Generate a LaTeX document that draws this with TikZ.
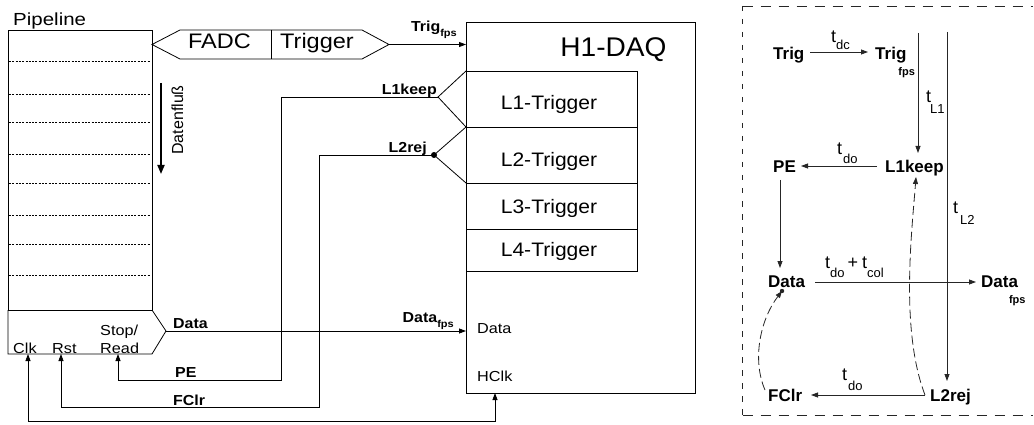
\documentclass[tikz,border=0pt]{standalone}
\usepackage{fontspec}
\setmainfont{Liberation Sans}
\usetikzlibrary{arrows.meta}
\newcommand\fsz[1]{\fontsize{#1}{#1}\selectfont}
\begin{document}
\begin{tikzpicture}[x=1pt,y=-1pt,
  ln/.style={line width=0.8pt},
  tip/.style={line width=0.8pt,-{Triangle[length=7pt,width=5pt]}},
  dotrow/.style={line width=0.7pt,dash pattern=on 2pt off 1.3pt},
  txt/.style={inner sep=0pt,anchor=base west},
  big/.style={txt,font=\fsz{21},xscale=1.12,anchor=base},
  trg/.style={txt,font=\fsz{19.5},xscale=1.08,anchor=base},
  sm/.style={txt,font=\fsz{14.5},xscale=1.12},
  bl/.style={txt,font=\bfseries\fsz{14.5},xscale=1.1},
  rb/.style={txt,font=\bfseries\fsz{17}},
  tl/.style={txt,font=\fsz{18}},
  rl/.style={line width=0.8pt,draw=black!85},
  rtip/.style={rl,-{Triangle[length=7pt,width=5pt]}},
  curve/.style={rl,dash pattern=on 9pt off 4pt,-{Triangle[length=7pt,width=5pt]}}]
\useasboundingbox (0,0) rectangle (1034,425);

% ---------- pipeline ----------
\node[txt,font=\fsz{17.5},xscale=1.17] (pipe) at (13,26) {Pipeline};
\draw[ln] (8,30.5) rectangle (152,310);
\coordinate (pipeOut) at (166,331);
\draw[ln] (8,310) -- (8,354) -- (152,354) -- (pipeOut) -- (152,310);
\foreach \y in {61,94,122,154,183,215,244,275}
  \draw[dotrow] (9,\y) -- (150,\y);
\coordinate (flowTop) at (161,83);
\coordinate (flowBot) at (161,174);
\draw[line width=1.8pt,-{Triangle[length=9pt,width=7pt]}] (flowTop) -- (flowBot);
\node[inner sep=0pt,font=\fsz{16},rotate=90,anchor=base] (flow) at (183,120) {Datenfluß};
\node[sm] (clk) at (13,353) {Clk};
\node[sm] (rst) at (52,353) {Rst};
\node[sm] (stop) at (100,335) {Stop/};
\node[sm] (read) at (100,353) {Read};
\coordinate (clkIn) at (28,354);
\coordinate (rstIn) at (61,354);
\coordinate (readIn) at (118,354);

% ---------- FADC / trigger ----------
\coordinate (fadcL) at (152,44.5);
\coordinate (trigR) at (389,44.5);
\draw[ln] (fadcL) -- (180,30) -- (362,30) -- (trigR) -- (362,59) -- (180,59) -- cycle;
\draw[ln] (271,30) -- (271,59);
\node[big] (fadc) at (219.5,48.5) {FADC};
\node[big] (trig) at (317,48.5) {Trigger};

% ---------- H1-DAQ ----------
\draw[ln] (466,22) rectangle (695,393);
\node[txt,font=\fsz{27},xscale=1.04,anchor=base] (daq) at (613.5,56.5) {H1-DAQ};
\draw[ln] (466,71) rectangle (637,127);
\draw[ln] (466,127) rectangle (637,183);
\draw[ln] (466,183) rectangle (637,229);
\draw[ln] (466,229) rectangle (637,271);
\node[trg] (lone) at (549,110) {L1-Trigger};
\node[trg] (ltwo) at (549,166.7) {L2-Trigger};
\node[trg] (lthree) at (549,213) {L3-Trigger};
\node[trg] (lfour) at (549,256) {L4-Trigger};
\node[sm] (daqDataL) at (477,333) {Data};
\node[sm] (daqClkL) at (477,381) {HClk};
\coordinate (daqTrig) at (466,44.5);
\coordinate (daqData) at (466,331);
\coordinate (daqClkIn) at (495,393);

% trigger decisions
\coordinate (lkFork) at (438,97);
\coordinate (lrFork) at (434,155);
\draw[ln] (466,71) -- (lkFork) -- (466,127);
\draw[ln] (466,127) -- (lrFork) -- (466,183);
\fill (lrFork) circle (3pt);

% ---------- signal lines ----------
\draw[tip] (trigR) -- (daqTrig);
\node[bl,anchor=base east] (trigFps) at (457,32) {Trig\raisebox{-5pt}{\fsz{10}fps}};
\draw[tip] (pipeOut) -- (daqData);
\node[bl] (dataOut) at (173,328) {Data};
\node[bl,anchor=base east] (dataFps) at (454,322) {Data\raisebox{-5pt}{\fsz{10}fps}};
\draw[tip] (lkFork) -- (281,97) -- (281,380) -- (118,380) -- (readIn);
\node[bl,anchor=base east] (lkeep) at (437,95) {L1keep};
\node[bl] (pe) at (175,377.5) {PE};
\draw[tip] (lrFork) -- (319,155) -- (319,407) -- (61,407) -- (rstIn);
\node[bl,anchor=base east] (lrej) at (427,153) {L2rej};
\node[bl] (fclr) at (173,405) {FClr};
\coordinate (clkLoop) at (28,421.7);
\draw[tip] (clkLoop) -- (clkIn);
\draw[tip] (clkLoop) -- (495,421.7) -- (daqClkIn);

% ---------- timing sketch ----------
\coordinate (boxTL) at (742.7,6);
\coordinate (boxBL) at (742.7,415);
\draw[rl,dash pattern=on 10pt off 8pt] (boxTL) -- (1033,6);
\draw[rl,dash pattern=on 10pt off 8pt] (boxBL) -- (1033,415);
\draw[rl,dash pattern=on 5.5pt off 7.5pt] (boxTL) -- (boxBL);

\node[rb] (tTrig) at (773,60) {Trig};
\node[rb] (tTrigF) at (875,60) {Trig\raisebox{-16pt}{\hspace{-8pt}\fsz{11}fps}};
\node[rb] (tPE) at (773,173) {PE};
\node[rb] (tKeep) at (885,173) {L1keep};
\node[rb] (tData) at (768,287) {Data};
\node[rb] (tDataF) at (981,287) {Data\raisebox{-16pt}{\hspace{-9pt}\fsz{11}fps}};
\node[rb] (tFClr) at (768,401.7) {FClr};
\node[rb] (tRej) at (930,401.7) {L2rej};

\node[tl] (tdc) at (831,42.7) {t\raisebox{-7pt}{\fsz{13}dc}};
\node[tl] (tLone) at (926,103) {t\raisebox{-11pt}{\hspace{-1pt}\fsz{13}L1}};
\node[tl] (tLtwo) at (953,213) {t\raisebox{-11pt}{\hspace{2pt}\fsz{13}L2}};
\node[tl] (tdoA) at (837,155) {t\raisebox{-9pt}{\hspace{1pt}\fsz{13}do}};
\node[tl] (tsum) at (825,268) {t\raisebox{-9pt}{\fsz{13}do}\hspace{3pt}+\hspace{4pt}t\raisebox{-9pt}{\fsz{13}col}};
\node[tl] (tdoB) at (842,380) {t\raisebox{-10pt}{\hspace{1pt}\fsz{13}do}};

\coordinate (aTrigS) at (810,52);   \coordinate (aTrigE) at (868,52);
\coordinate (aLoneS) at (918,33);   \coordinate (aLoneE) at (918,153);
\coordinate (aLtwoS) at (947,32);   \coordinate (aLtwoE) at (947,381);
\coordinate (aPES) at (877,166);    \coordinate (aPEE) at (801,166);
\coordinate (aDnS) at (780,180);    \coordinate (aDnE) at (780,268);
\coordinate (aDataS) at (815,282);  \coordinate (aDataE) at (976,282);
\coordinate (aClrS) at (925,395);   \coordinate (aClrE) at (811,395);
\coordinate (cKeep) at (916,177);
\coordinate (cData) at (782,291);
\coordinate (cClr) at (765,390);

\draw[rtip] (aTrigS) -- (aTrigE);
\draw[rtip] (aLoneS) -- (aLoneE);
\draw[rtip] (aLtwoS) -- (aLtwoE);
\draw[rtip] (aPES) -- (aPEE);
\draw[rtip] (aDnS) -- (aDnE);
\draw[rtip] (aDataS) -- (aDataE);
\draw[rtip] (aClrS) -- (aClrE);
\draw[curve] (aClrS) .. controls (900,330) and (912,230) .. (cKeep);
\draw[curve] (cClr) .. controls (752,360) and (760,320) .. (cData);
\fill[black!85] (cData) circle (2.2pt);
\end{tikzpicture}
\end{document}
